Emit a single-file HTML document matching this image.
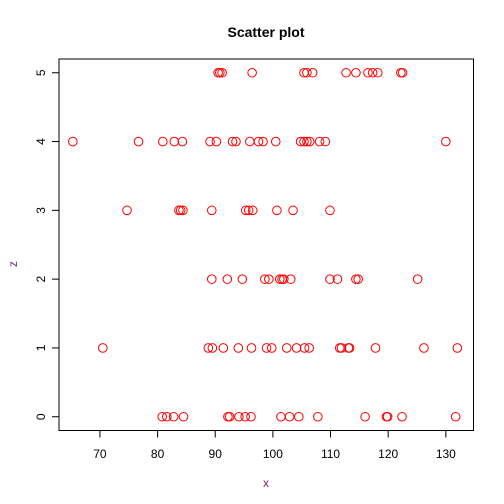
<!DOCTYPE html>
<html><head><meta charset="utf-8"><style>body{margin:0;background:#fff}svg{display:block;font-family:"Liberation Sans",sans-serif}</style></head>
<body>
<svg id="chart" width="504" height="504">
<rect width="504" height="504" fill="#fff"/>
<text x="266" y="37" text-anchor="middle" font-weight="bold" font-size="14">Scatter plot</text>
<rect x="59" y="59" width="414.5" height="371.5" fill="none" stroke="#000"/>
<g id="xaxis"></g>
<g id="yaxis"></g>
<text x="266" y="487" text-anchor="middle" font-size="12" fill="#7a1f7a">x</text>
<text transform="translate(17,264) rotate(-90)" text-anchor="middle" font-size="12" fill="#7a1f7a">z</text>
<g id="points"></g>
</svg>
<script>
const xTicks=[70,80,90,100,110,120,130];
const yTicks=[0,1,2,3,4,5];
const row5=[90.5,90.8,91.2,96.4,105.4,105.9,106.9,112.7,114.4,116.5,117.3,118.2,122.2,122.5];
const row4=[65.3,76.7,80.9,82.9,84.3,89.1,90.2,93.0,93.6,96.0,97.5,98.3,100.5,104.8,105.4,105.9,106.4,108.1,109.1,130.0];
const row3=[74.7,83.7,84.0,84.4,89.4,95.3,95.8,96.5,100.7,103.5,109.9];
const row2=[89.4,92.1,94.7,98.6,99.3,101.2,101.6,101.9,103.1,109.9,111.2,114.4,114.8,125.1];
const row1=[70.5,88.8,89.5,91.4,94.0,96.3,98.9,99.8,102.4,104.1,105.5,106.3,111.6,111.9,113.1,113.3,117.8,126.2,132.0];
const row0=[80.8,81.6,82.8,84.5,92.2,92.5,94.1,95.2,96.2,101.4,102.9,104.5,107.8,116.0,119.7,119.9,122.4,131.7];
const rows=[row0,row1,row2,row3,row4,row5];
const NS="http://www.w3.org/2000/svg";
const X0=59,X1=473.5,Y0=430.5,Y1=59;
const xd=[62.9,134.8], yd=[-0.2,5.2];
const sx=v=>X0+(v-xd[0])/(xd[1]-xd[0])*(X1-X0);
const sy=v=>Y0-(v-yd[0])/(yd[1]-yd[0])*(Y0-Y1);
function mk(t,a,p){const e=document.createElementNS(NS,t);for(const k in a)e.setAttribute(k,a[k]);p.appendChild(e);return e;}
const xa=document.getElementById('xaxis');
mk('line',{x1:sx(xTicks[0]),x2:sx(xTicks[xTicks.length-1]),y1:Y0,y2:Y0,stroke:'#000'},xa);
xTicks.forEach(t=>{
 const l=mk('line',{x1:sx(t),x2:sx(t),y1:Y0,y2:Y0+7,stroke:'#000'},xa);
 
 
 const tx=mk('text',{x:sx(t),y:458,'text-anchor':'middle','font-size':12},xa);tx.textContent=t;
 
 
});
const ya=document.getElementById('yaxis');
mk('line',{x1:X0,x2:X0,y1:sy(yTicks[0]),y2:sy(yTicks[yTicks.length-1]),stroke:'#000'},ya);
yTicks.forEach(t=>{
 const l=mk('line',{x1:X0-7,x2:X0,y1:sy(t),y2:sy(t),stroke:'#000'},ya);
 
 
 const tx=mk('text',{transform:`translate(45,${sy(t)}) rotate(-90)`,'text-anchor':'middle','font-size':12},ya);tx.textContent=t;
 
 
});
const pg=document.getElementById('points');
rows.forEach((r,z)=>r.forEach(v=>{
 const c=mk('circle',{cx:sx(v),cy:sy(z),r:4.3,fill:'none',stroke:'#f00','stroke-width':1},pg);
 
 
}));
</script>
</body></html>
